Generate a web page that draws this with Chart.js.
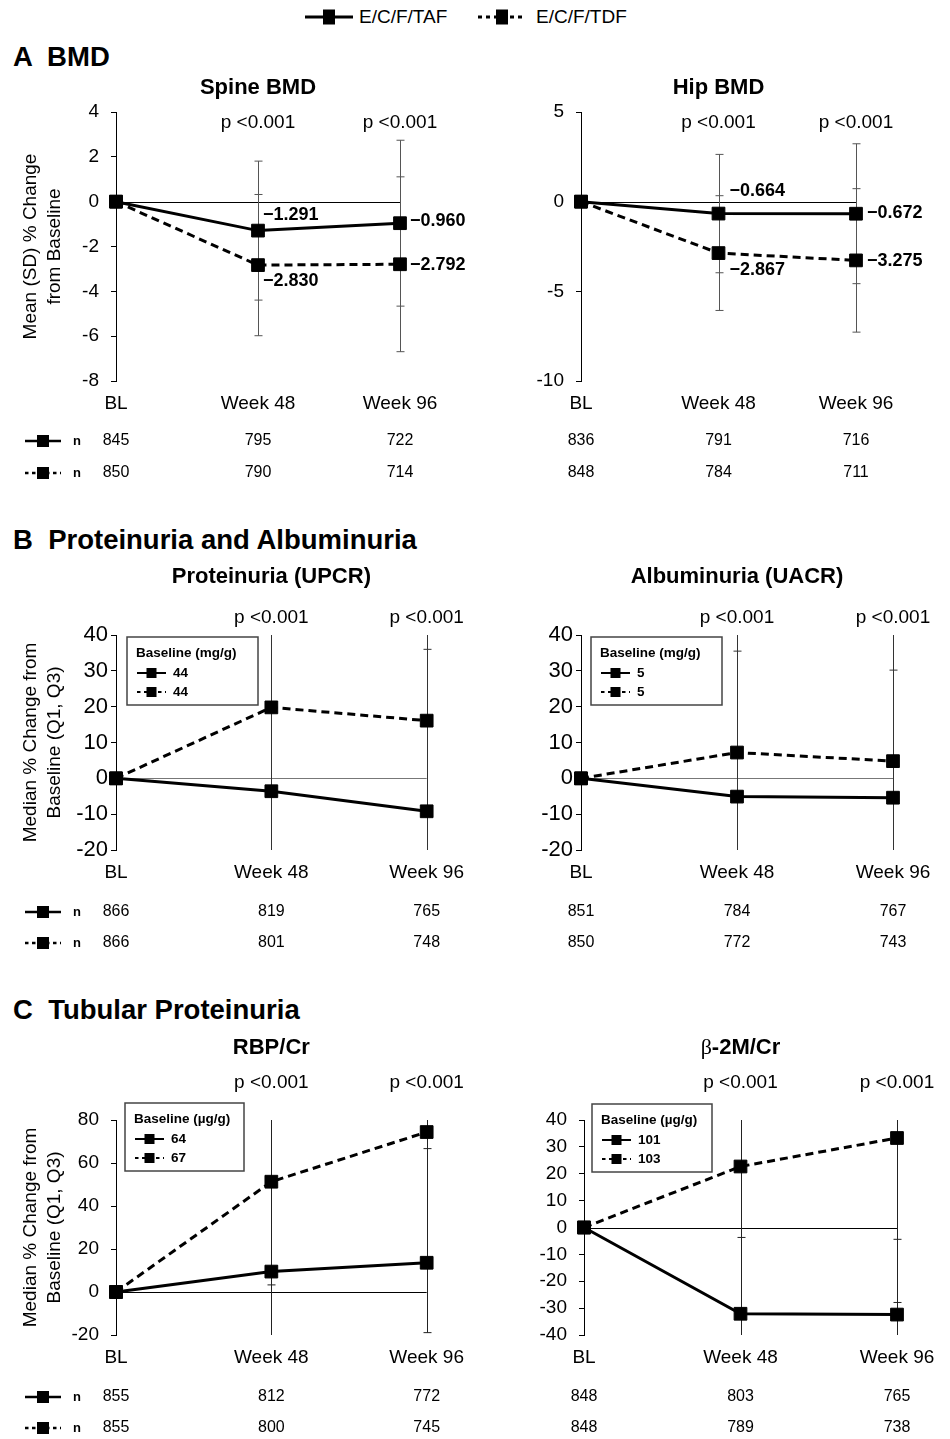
<!DOCTYPE html>
<html>
<head>
<meta charset="utf-8">
<script src="https://cdn.jsdelivr.net/npm/chart.js@4.4.0/dist/chart.umd.min.js"></script>
<style>
  body { margin: 0; background: #fff; font-family: "Liberation Sans", Arial, sans-serif; color: #000; }
  #page { position: relative; width: 950px; height: 1439px; overflow: hidden; background: #fff; }
  .sec { position: absolute; left: 13px; font-weight: bold; font-size: 27.5px; line-height: 30px; white-space: pre; }
  canvas { position: absolute; }
  #legend span { position: absolute; font-size: 19px; line-height: 22px; top: 6px; }
  #legend svg { position: absolute; top: 6px; }
</style>
</head>
<body>
<div id="page">
  <div id="legend"></div>
  <div class="sec" style="top:42px">A  BMD</div>
  <div class="sec" style="top:525px">B  Proteinuria and Albuminuria</div>
  <div class="sec" style="top:995px">C  Tubular Proteinuria</div>

  <canvas id="spine" width="475" height="440" style="left:0;top:60px"></canvas>
  <canvas id="hip" width="475" height="440" style="left:475px;top:60px"></canvas>
  <canvas id="upcr" width="475" height="400" style="left:0;top:560px"></canvas>
  <canvas id="uacr" width="475" height="400" style="left:475px;top:560px"></canvas>
  <canvas id="rbp" width="475" height="419" style="left:0;top:1020px"></canvas>
  <canvas id="b2m" width="475" height="419" style="left:475px;top:1020px"></canvas>
</div>

<script>
const FONT = '"Liberation Sans", Arial, sans-serif';

const weeks = ['BL', 'Week 48', 'Week 96'];
const seriesNames = ['E/C/F/TAF', 'E/C/F/TDF'];
const pLabels = ['', 'p <0.001', 'p <0.001'];

// A  BMD - mean % change, SD
const spineTAF = [0, -1.291, -0.960];
const spineTDF = [0, -2.830, -2.792];
const spineSdTAF = [null, 3.1, 3.7];
const spineSdTDF = [null, 3.15, 3.9];
const spineNTAF = [845, 795, 722];
const spineNTDF = [850, 790, 714];

const hipTAF = [0, -0.664, -0.672];
const hipTDF = [0, -2.867, -3.275];
const hipSdTAF = [null, 3.3, 3.9];
const hipSdTDF = [null, 3.2, 4.0];
const hipNTAF = [836, 791, 716];
const hipNTDF = [848, 784, 711];

// B  proteinuria / albuminuria - median % change, Q1 / Q3
const upcrTAF = [0, -3.6, -9.2];
const upcrTDF = [0, 19.8, 16.1];
const upcrQ1TAF = [null, -35, -40];
const upcrQ3TAF = [null, 45, 36];
const upcrQ1TDF = [null, -25, -22];
const upcrQ3TDF = [null, 80, 75];
const upcrBase = [44, 44];
const upcrNTAF = [866, 819, 765];
const upcrNTDF = [866, 801, 748];

const uacrTAF = [0, -5.1, -5.4];
const uacrTDF = [0, 7.2, 4.8];
const uacrQ1TAF = [null, -40, -40];
const uacrQ3TAF = [null, 35.5, 30.2];
const uacrQ1TDF = [null, -30, -30];
const uacrQ3TDF = [null, 70, 65];
const uacrBase = [5, 5];
const uacrNTAF = [851, 784, 767];
const uacrNTDF = [850, 772, 743];

// C  tubular proteinuria
const rbpTAF = [0, 9.5, 13.6];
const rbpTDF = [0, 51.3, 74.4];
const rbpQ1TAF = [null, -25, -18.9];
const rbpQ3TAF = [null, 85, 66.7];
const rbpQ1TDF = [null, 3.3, 10.9];
const rbpQ3TDF = [null, 130, 140];
const rbpBase = [64, 67];
const rbpNTAF = [855, 812, 772];
const rbpNTDF = [855, 800, 745];

const b2mTAF = [0, -32.1, -32.4];
const b2mTDF = [0, 22.7, 33.3];
const b2mQ1TAF = [null, -55, -55];
const b2mQ3TAF = [null, -3.7, -4.4];
const b2mQ1TDF = [null, -45, -27.9];
const b2mQ3TDF = [null, 70, 80];
const b2mBase = [101, 103];
const b2mNTAF = [848, 803, 765];
const b2mNTDF = [848, 789, 738];

const minus = (m, sd) => m.map((v, i) => sd[i] == null ? null : v - sd[i]);
const plus = (m, sd) => m.map((v, i) => sd[i] == null ? null : v + sd[i]);

// small line + square sample, used in legends and n tables
function drawSample(ctx, x, y, w, dashed, lw, ms) {
  ctx.save();
  ctx.strokeStyle = '#000';
  ctx.lineWidth = lw;
  ctx.setLineDash(dashed ? [3.5, 3.5] : []);
  ctx.beginPath();
  ctx.moveTo(x, y);
  ctx.lineTo(x + w, y);
  ctx.stroke();
  ctx.setLineDash([]);
  ctx.fillStyle = '#000';
  ctx.fillRect(x + w / 2 - ms / 2, y - ms / 2, ms, ms);
  ctx.restore();
}

// top legend
(function () {
  const lg = document.getElementById('legend');
  const iconX = [305, 478], textX = [359, 536];
  seriesNames.forEach((name, i) => {
    const dash = i ? 'stroke-dasharray="4 4"' : '';
    lg.insertAdjacentHTML('beforeend',
      `<svg width="48" height="22" style="left:${iconX[i]}px"><line x1="0" y1="11" x2="48" y2="11" stroke="#000" stroke-width="3" ${dash}/><rect x="18" y="3.5" width="12" height="15" fill="#000"/></svg>` +
      `<span style="left:${textX[i]}px">${name}</span>`);
  });
})();

function dataset(values, i) {
  return {
    label: seriesNames[i],
    data: values,
    borderColor: '#000',
    backgroundColor: '#000',
    borderWidth: 3,
    borderDash: i ? [8, 5] : [],
    pointStyle: 'rect',
    pointRadius: 9,
    pointBackgroundColor: '#000',
    pointBorderColor: '#000',
    pointBorderWidth: 1,
    tension: 0,
    clip: false
  };
}

function panel(id, o) {
  const decor = {
    id: 'decor',
    beforeDatasetsDraw(chart) {
      const { ctx, chartArea: a, scales: { x, y } } = chart;
      ctx.save();
      // zero reference line
      const y0 = Math.round(y.getPixelForValue(0)) + 0.5;
      ctx.strokeStyle = o.zeroColor;
      ctx.lineWidth = 1;
      ctx.beginPath();
      ctx.moveTo(a.left, y0);
      ctx.lineTo(a.right, y0);
      ctx.stroke();
      // error bars
      ctx.strokeStyle = o.errColor;
      o.errs.forEach(([lo, hi]) => {
        lo.forEach((v, i) => {
          if (v == null) return;
          const px = Math.round(x.getPixelForValue(i)) + 0.5;
          const yt = y.getPixelForValue(Math.min(hi[i], y.max));
          const yb = y.getPixelForValue(Math.max(lo[i], y.min));
          ctx.beginPath();
          ctx.moveTo(px, yt);
          ctx.lineTo(px, yb);
          if (hi[i] <= y.max) { ctx.moveTo(px - 4, yt); ctx.lineTo(px + 4, yt); }
          if (lo[i] >= y.min) { ctx.moveTo(px - 4, yb); ctx.lineTo(px + 4, yb); }
          ctx.stroke();
        });
      });
      ctx.restore();
    },
    afterDatasetsDraw(chart) {
      const { ctx, chartArea: a, scales: { x, y } } = chart;
      ctx.save();
      ctx.fillStyle = '#000';
      ctx.textBaseline = 'middle';

      // panel title
      let tw = 0;
      o.title.forEach(([t, w, f]) => { ctx.font = `${w} 22px ${f || FONT}`; tw += ctx.measureText(t).width; });
      let tx = (a.left + a.right) / 2 - tw / 2;
      ctx.textAlign = 'left';
      o.title.forEach(([t, w, f]) => {
        ctx.font = `${w} 22px ${f || FONT}`;
        ctx.fillText(t, tx, a.top + o.titleDy);
        tx += ctx.measureText(t).width;
      });

      // p values
      ctx.font = `19px ${FONT}`;
      ctx.textAlign = 'center';
      pLabels.forEach((p, i) => { if (p) ctx.fillText(p, x.getPixelForValue(i), a.top + o.pDy); });

      // value labels
      if (o.valueLabels) {
        ctx.font = `bold 18px ${FONT}`;
        ctx.textAlign = 'left';
        o.valueLabels.forEach(([s, i, dx, dy]) => {
          const v = chart.data.datasets[s].data[i];
          ctx.fillText('\u2212' + Math.abs(v).toFixed(3), x.getPixelForValue(i) + dx, y.getPixelForValue(v) + dy);
        });
      }

      // baseline box
      if (o.base) {
        const bx = a.left + o.base.dx, by = a.top + o.base.dy;
        ctx.strokeStyle = '#444';
        ctx.lineWidth = 1.5;
        ctx.strokeRect(bx, by, o.base.w, 68);
        ctx.font = `bold 13.5px ${FONT}`;
        ctx.textAlign = 'left';
        ctx.fillText(`Baseline (${o.base.unit})`, bx + 9, by + 16);
        o.base.values.forEach((v, i) => {
          drawSample(ctx, bx + 10, by + 36 + i * 19, 29, i === 1, 2, 10);
          ctx.fillText(String(v), bx + 46, by + 36 + i * 19);
        });
      }

      // n table
      o.n.forEach((row, r) => {
        const ry = a.bottom + o.nDy[r];
        if (o.nIcons) {
          drawSample(ctx, 25, ry, 36, r === 1, 2.5, 12);
          ctx.font = `bold 13px ${FONT}`;
          ctx.textAlign = 'center';
          ctx.fillText('n', 77, ry);
        }
        ctx.font = `16px ${FONT}`;
        ctx.textAlign = 'center';
        row.forEach((n, i) => ctx.fillText(String(n), x.getPixelForValue(i), ry));
      });
      ctx.restore();
    }
  };

  return new Chart(document.getElementById(id), {
    type: 'line',
    data: { labels: weeks, datasets: [dataset(o.taf, 0), dataset(o.tdf, 1)] },
    options: {
      responsive: false,
      animation: false,
      layout: { padding: { left: 0, right: o.padRight, top: o.padTop, bottom: o.padBottom } },
      plugins: { legend: { display: false }, tooltip: { enabled: false } },
      scales: {
        x: {
          type: 'category',
          offset: false,
          grid: { display: false, drawTicks: false },
          border: { display: false },
          ticks: { padding: 11, color: '#000', font: { family: FONT, size: 19 }, maxRotation: 0, autoSkip: false },
          afterFit: s => { s.height = 30; }
        },
        y: {
          min: o.yMin,
          max: o.yMax,
          ticks: { stepSize: o.step, padding: o.tickPad, color: '#000', font: { family: FONT, size: o.tickSize } },
          grid: { drawOnChartArea: false, drawTicks: true, tickLength: 5, color: '#000' },
          border: { display: true, color: '#000', width: 1 },
          title: {
            display: !!o.yTitle,
            text: o.yTitle,
            color: '#000',
            font: { family: FONT, size: 19, lineHeight: 1.3 },
            padding: { top: 18, bottom: 0 }
          },
          afterFit: s => { s.width = o.yWidth; }
        }
      }
    },
    plugins: [decor]
  });
}

const rowA = { padTop: 52, padBottom: 89, titleDy: -24, pDy: 11, nDy: [60, 92], zeroColor: '#000', errColor: '#555', tickPad: 12, tickSize: 19 };
const rowB = { padTop: 75, padBottom: 80, titleDy: -58, pDy: -17, nDy: [62, 93], zeroColor: '#777', errColor: '#333', tickPad: 3, tickSize: 22 };
const rowC = { padTop: 100, padBottom: 74, titleDy: -72, pDy: -37, nDy: [62, 93], zeroColor: '#000', errColor: '#222', tickPad: 12, tickSize: 19 };
const medTitle = ['Median % Change from', 'Baseline (Q1, Q3)'];

panel('spine', Object.assign({}, rowA, {
  taf: spineTAF, tdf: spineTDF,
  errs: [[minus(spineTAF, spineSdTAF), plus(spineTAF, spineSdTAF)], [minus(spineTDF, spineSdTDF), plus(spineTDF, spineSdTDF)]],
  yMin: -8, yMax: 4, step: 2, yWidth: 116, padRight: 75,
  yTitle: ['Mean (SD) % Change', 'from Baseline'],
  title: [['Spine BMD', 'bold']],
  valueLabels: [[0, 1, 5, -16], [1, 1, 5, 16], [0, 2, 10, -2], [1, 2, 10, 1]],
  n: [spineNTAF, spineNTDF], nIcons: true
}));

panel('hip', Object.assign({}, rowA, {
  taf: hipTAF, tdf: hipTDF,
  errs: [[minus(hipTAF, hipSdTAF), plus(hipTAF, hipSdTAF)], [minus(hipTDF, hipSdTDF), plus(hipTDF, hipSdTDF)]],
  yMin: -10, yMax: 5, step: 5, yWidth: 106, padRight: 94,
  title: [['Hip BMD', 'bold']],
  valueLabels: [[0, 1, 11, -23], [1, 1, 11, 17], [0, 2, 11, -1], [1, 2, 11, 1]],
  n: [hipNTAF, hipNTDF], nIcons: false
}));

panel('upcr', Object.assign({}, rowB, {
  taf: upcrTAF, tdf: upcrTDF,
  errs: [[upcrQ1TAF, upcrQ3TAF], [upcrQ1TDF, upcrQ3TDF]],
  yMin: -20, yMax: 40, step: 10, yWidth: 116, padRight: 47,
  yTitle: medTitle,
  title: [['Proteinuria (UPCR)', 'bold']],
  base: { unit: 'mg/g', values: upcrBase, dx: 11, dy: 2, w: 131 },
  n: [upcrNTAF, upcrNTDF], nIcons: true
}));

panel('uacr', Object.assign({}, rowB, {
  taf: uacrTAF, tdf: uacrTDF,
  errs: [[uacrQ1TAF, uacrQ3TAF], [uacrQ1TDF, uacrQ3TDF]],
  yMin: -20, yMax: 40, step: 10, yWidth: 106, padRight: 57,
  title: [['Albuminuria (UACR)', 'bold']],
  base: { unit: 'mg/g', values: uacrBase, dx: 10, dy: 2, w: 131 },
  n: [uacrNTAF, uacrNTDF], nIcons: false
}));

panel('rbp', Object.assign({}, rowC, {
  taf: rbpTAF, tdf: rbpTDF,
  errs: [[rbpQ1TAF, rbpQ3TAF], [rbpQ1TDF, rbpQ3TDF]],
  yMin: -20, yMax: 80, step: 20, yWidth: 116, padRight: 47,
  yTitle: medTitle,
  title: [['RBP/Cr', 'bold']],
  base: { unit: '\u00b5g/g', values: rbpBase, dx: 9, dy: -17, w: 119 },
  n: [rbpNTAF, rbpNTDF], nIcons: true
}));

panel('b2m', Object.assign({}, rowC, {
  taf: b2mTAF, tdf: b2mTDF,
  errs: [[b2mQ1TAF, b2mQ3TAF], [b2mQ1TDF, b2mQ3TDF]],
  yMin: -40, yMax: 40, step: 10, yWidth: 109, padRight: 53,
  title: [['\u03b2', 'normal', '"Liberation Serif", "DejaVu Serif", serif'], ['-2M/Cr', 'bold']],
  base: { unit: '\u00b5g/g', values: b2mBase, dx: 8, dy: -16, w: 120 },
  n: [b2mNTAF, b2mNTDF], nIcons: false
}));
</script>
</body>
</html>
